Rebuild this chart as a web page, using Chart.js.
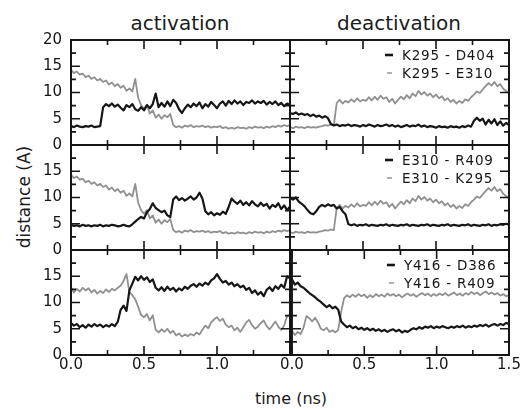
<!DOCTYPE html>
<html><head><meta charset="utf-8">
<script src="https://cdn.jsdelivr.net/npm/chart.js@4.4.1/dist/chart.umd.min.js"></script>
<style>
html,body{margin:0;padding:0;background:#fff;width:526px;height:409px;overflow:hidden;}
#wrap{position:relative;width:526px;height:409px;font-family:"DejaVu Sans",sans-serif;color:#1a1a1a;}
canvas{position:absolute;}
.lbl{position:absolute;white-space:nowrap;line-height:1;}
</style></head>
<body><div id="wrap">
<div class="lbl" style="left:180px;top:13px;transform:translateX(-50%);font-size:20px;">activation</div>
<div class="lbl" style="left:399px;top:13px;transform:translateX(-50%);font-size:20px;">deactivation</div>
<div class="lbl" style="left:291px;top:391px;transform:translateX(-50%);font-size:16px;">time (ns)</div>
<div class="lbl" style="left:24px;top:197px;transform:translate(-50%,-50%) rotate(-90deg);font-size:17px;">distance (A)</div>
</div>
<script>
// ---- data ----
const timeNs = [
 0.00,0.02,0.04,0.06,0.08,0.10,0.12,0.14,0.16,0.18,
 0.20,0.22,0.24,0.26,0.28,0.30,0.32,0.34,0.36,0.38,
 0.40,0.42,0.44,0.46,0.48,0.50,0.52,0.54,0.56,0.58,
 0.60,0.62,0.64,0.66,0.68,0.70,0.72,0.74,0.76,0.78,
 0.80,0.82,0.84,0.86,0.88,0.90,0.92,0.94,0.96,0.98,
 1.00,1.02,1.04,1.06,1.08,1.10,1.12,1.14,1.16,1.18,
 1.20,1.22,1.24,1.26,1.28,1.30,1.32,1.34,1.36,1.38,
 1.40,1.42,1.44,1.46,1.48,1.50];

const yTicksMajor = [0,5,10,15,20];
const xTicksMajor = [0.0,0.5,1.0,1.5];

// K295 - D404, activation
const k295_d404_act = [
 3.6,3.4,3.7,3.5,3.4,3.6,3.5,3.7,3.4,3.5,
 3.6,7.2,7.8,7.4,7.9,7.3,7.7,7.1,6.6,7.6,
 7.2,7.8,6.8,6.5,7.2,6.6,7.6,7.0,7.8,9.8,
 7.2,8.0,7.3,8.3,7.4,8.6,8.0,6.8,6.1,7.0,
 7.7,7.2,7.9,7.4,8.1,7.0,7.8,7.3,8.2,7.6,
 7.0,7.9,8.3,7.5,8.4,7.8,8.5,7.9,8.3,7.6,
 8.2,8.0,8.5,7.9,8.3,8.0,8.4,7.7,8.2,7.8,
 8.3,7.6,8.0,7.4,7.9,7.6];
// K295 - E310 (= E310 - K295), activation
const k295_e310_act = [
 14.3,13.7,14.0,13.4,13.6,12.9,13.2,12.6,12.9,12.3,
 12.6,12.0,12.3,11.5,11.9,11.2,11.6,10.9,11.3,10.3,
 10.8,10.2,12.6,9.0,7.6,6.9,7.6,6.0,6.6,5.2,
 5.8,5.0,5.7,5.3,5.9,3.8,3.4,3.6,3.3,3.7,
 3.5,3.8,3.4,3.6,3.5,3.7,3.4,3.6,3.3,3.5,
 3.4,3.6,3.2,3.4,3.1,3.3,3.1,3.4,3.2,3.3,
 3.1,3.4,3.2,3.5,3.3,3.4,3.2,3.5,3.3,3.6,
 3.4,3.7,3.5,3.8,3.6,3.8];
// K295 - D404, deactivation
const k295_d404_deact = [
 6.1,5.9,6.2,5.8,6.0,5.7,5.9,5.5,5.8,5.4,
 5.6,5.2,5.5,5.1,4.0,3.7,3.9,3.6,3.8,3.7,
 3.9,3.6,3.8,3.7,3.5,3.8,3.6,3.9,3.7,3.5,
 3.8,3.6,3.7,3.9,3.6,3.8,3.5,3.7,3.4,3.6,
 3.8,3.5,3.7,3.6,3.9,3.5,3.7,3.4,3.6,3.5,
 3.3,3.6,3.4,3.5,3.3,3.6,3.4,3.5,3.3,3.6,
 3.4,3.7,3.5,4.6,5.2,4.6,5.0,3.9,4.8,4.1,
 4.9,3.8,4.5,3.7,4.2,3.8];
// K295 - E310 (= E310 - K295), deactivation
const k295_e310_deact = [
 3.4,3.2,3.5,3.3,3.4,3.2,3.5,3.3,3.4,3.3,
 3.5,3.6,3.8,3.7,3.9,3.8,8.0,8.6,7.9,8.4,
 8.1,8.7,8.2,8.9,8.3,8.6,8.4,9.1,8.5,9.2,
 8.6,9.4,8.8,9.1,8.2,8.8,7.9,8.6,9.2,8.7,
 9.5,8.9,9.8,9.3,10.3,9.6,10.1,9.4,9.8,9.1,
 9.6,8.9,9.3,8.5,8.9,8.2,8.6,7.9,8.4,8.0,
 8.7,8.4,9.1,9.6,10.2,9.9,10.6,11.2,11.8,11.3,
 12.0,11.2,11.6,10.7,10.3,9.9];
// E310 - R409, activation
const e310_r409_act = [
 4.8,4.6,4.7,4.5,4.8,4.6,4.7,4.5,4.7,4.6,
 4.8,4.5,4.7,4.6,4.8,4.7,4.5,4.6,4.8,4.6,
 4.5,4.9,5.4,5.9,6.3,6.0,7.2,7.8,8.9,8.0,
 7.6,7.2,7.5,6.6,6.3,9.6,10.2,9.5,9.9,9.4,
 9.8,10.2,9.6,10.0,10.9,9.8,7.4,6.8,7.2,6.6,
 7.0,6.7,7.3,6.9,8.2,9.8,9.2,8.8,9.4,8.6,
 9.1,8.5,9.3,8.7,8.3,9.0,8.4,8.8,7.9,8.6,
 8.2,8.9,7.8,8.5,7.6,8.3];
// E310 - R409, deactivation
const e310_r409_deact = [
 9.9,9.6,10.0,9.2,8.8,8.3,7.6,7.0,6.8,7.4,
 8.2,8.6,8.3,8.7,8.4,8.6,7.9,8.2,7.4,6.8,
 4.9,4.7,4.9,4.6,4.8,4.7,4.9,4.6,4.8,4.7,
 4.6,4.8,4.7,4.9,4.6,4.8,4.7,4.6,4.8,4.7,
 4.9,4.6,4.8,4.7,4.6,4.8,4.7,4.9,4.6,4.8,
 4.7,4.6,4.8,4.7,4.9,4.6,4.8,4.7,4.6,4.8,
 4.7,4.9,4.6,4.8,4.7,4.6,4.8,4.7,4.9,4.6,
 4.8,4.7,4.9,4.8,5.0,4.8];
// Y416 - D386, activation
const y416_d386_act = [
 6.1,5.6,5.9,5.3,5.7,5.2,5.8,5.4,5.9,5.5,
 5.8,5.3,5.7,5.4,5.9,5.5,6.3,8.6,9.4,8.4,
 12.3,13.6,14.9,14.2,15.0,14.3,14.8,13.9,14.4,12.8,
 12.3,12.9,12.2,13.0,12.4,12.8,12.1,12.7,12.3,13.0,
 12.6,13.2,13.5,13.0,13.6,13.2,13.8,13.4,14.2,14.6,
 15.4,14.5,13.8,14.1,13.4,13.8,13.1,13.5,12.9,13.2,
 12.4,12.8,11.8,12.3,11.5,12.0,11.2,12.4,12.9,12.2,
 13.1,12.6,13.4,12.8,15.0,14.6];
// Y416 - R409, activation
const y416_r409_act = [
 12.9,11.9,12.6,12.1,12.8,12.3,12.7,11.9,12.4,11.7,
 12.2,11.8,12.5,12.0,12.6,12.3,12.8,13.2,14.1,15.4,
 12.0,11.4,10.6,9.2,7.6,7.2,7.8,6.6,7.6,4.8,
 4.3,4.9,4.4,5.0,4.2,4.6,3.7,4.1,3.5,3.9,
 3.6,4.0,3.7,4.3,3.9,4.8,5.6,5.1,6.2,6.8,
 7.2,6.5,6.9,5.8,5.3,5.6,4.7,5.2,4.4,5.3,
 6.2,6.7,5.7,5.0,5.4,6.1,6.6,5.5,4.9,5.6,
 6.4,5.4,4.8,5.6,7.4,7.6];
// Y416 - D386, deactivation
const y416_d386_deact = [
 14.4,13.4,13.8,13.1,12.8,12.3,11.8,11.4,11.0,10.5,
 10.1,9.6,9.1,9.5,8.9,9.2,8.6,6.4,5.8,5.3,
 5.6,5.1,5.4,4.9,5.2,4.8,5.1,4.7,5.0,4.6,
 4.9,4.5,4.8,4.4,4.7,4.9,4.5,4.8,4.3,4.6,
 4.4,4.8,5.1,4.9,5.3,5.0,5.4,5.2,5.5,5.1,
 5.4,5.2,5.5,5.3,5.1,5.4,5.2,5.5,5.3,5.6,
 5.2,5.5,5.3,5.6,5.4,5.7,5.5,5.8,5.4,5.7,
 5.9,5.6,5.9,5.7,6.1,5.9];
// Y416 - R409, deactivation
const y416_r409_deact = [
 4.6,3.8,4.4,4.0,5.2,7.4,7.0,6.4,7.1,6.2,
 5.0,4.7,5.2,4.4,4.7,4.3,4.8,8.2,10.8,11.4,
 11.0,11.5,11.1,11.6,11.2,11.5,10.9,11.4,11.0,11.6,
 11.2,11.5,11.1,11.7,11.3,11.6,11.2,11.5,11.0,11.4,
 11.7,11.3,11.6,11.1,11.5,11.8,11.4,11.7,11.2,11.6,
 11.3,11.7,11.4,11.8,11.3,11.6,11.9,11.4,11.7,11.3,
 11.8,11.5,12.0,11.6,11.9,11.4,11.8,12.1,11.6,11.9,
 11.5,11.8,11.3,11.6,11.2,11.4];

const panels = [
  {col:0,row:0,legend:false,series:[['K295 - D404',k295_d404_act],['K295 - E310',k295_e310_act]]},
  {col:1,row:0,legend:true, series:[['K295 - D404',k295_d404_deact],['K295 - E310',k295_e310_deact]]},
  {col:0,row:1,legend:false,series:[['E310 - R409',e310_r409_act],['E310 - K295',k295_e310_act]]},
  {col:1,row:1,legend:true, series:[['E310 - R409',e310_r409_deact],['E310 - K295',k295_e310_deact]]},
  {col:0,row:2,legend:false,series:[['Y416 - D386',y416_d386_act],['Y416 - R409',y416_r409_act]]},
  {col:1,row:2,legend:true, series:[['Y416 - D386',y416_d386_deact],['Y416 - R409',y416_r409_deact]]}
];

// ---- styling / drawing ----
const INK = '#161616';
const GRAY = '#909090';
const FONT = '"DejaVu Sans", sans-serif';

const framePlugin = {
  id: 'frame',
  afterDatasetsDraw(chart, args, opts) {
    const {ctx, chartArea: a, scales} = chart;
    const x = scales.x, y = scales.y;
    ctx.save();
    ctx.strokeStyle = INK;
    ctx.lineWidth = 2;
    ctx.strokeRect(a.left, a.top, a.right - a.left, a.bottom - a.top);
    ctx.lineWidth = 1.6;
    ctx.beginPath();
    x.ticks.forEach(t => {
      const px = x.getPixelForValue(t.value);
      const major = xTicksMajor.some(m => Math.abs(m - t.value) < 1e-6);
      const L = major ? 9 : 5;
      ctx.moveTo(px, a.bottom); ctx.lineTo(px, a.bottom - L);
      ctx.moveTo(px, a.top); ctx.lineTo(px, a.top + L);
    });
    y.ticks.forEach(t => {
      const py = y.getPixelForValue(t.value);
      const major = yTicksMajor.includes(t.value);
      const L = major ? 9 : 5;
      ctx.moveTo(a.left, py); ctx.lineTo(a.left + L, py);
      ctx.moveTo(a.right, py); ctx.lineTo(a.right - L, py);
    });
    ctx.stroke();
    if (opts.legend) {
      const rows = [15, 33];
      chart.data.datasets.forEach((ds, i) => {
        const yy = a.top + rows[i];
        ctx.beginPath();
        ctx.strokeStyle = ds.borderColor;
        if (i === 0) { ctx.lineWidth = 2.6; ctx.moveTo(a.left + 95, yy); ctx.lineTo(a.left + 103, yy); }
        else { ctx.lineWidth = 1.4; ctx.moveTo(a.left + 97, yy); ctx.lineTo(a.left + 102, yy); }
        ctx.stroke();
        ctx.fillStyle = INK;
        ctx.font = '13.5px ' + FONT;
        try { ctx.letterSpacing = '0.8px'; } catch (e) {}
        ctx.textBaseline = 'middle';
        ctx.textAlign = 'left';
        ctx.fillText(ds.label, a.left + 112, yy + 1);
      });
    }
    ctx.restore();
  }
};

const wrap = document.getElementById('wrap');
const rowTops = [40, 145, 250];
const PH = 105;

panels.forEach(p => {
  const bottomRow = p.row === 2;
  const xH = bottomRow ? 30 : 0;
  const left = p.col === 0 ? 0 : 280;
  const width = p.col === 0 ? 300 : 246;
  const top = rowTops[p.row] - 20;
  const height = 20 + PH + xH + 14;
  const cv = document.createElement('canvas');
  cv.width = width; cv.height = height;
  cv.style.left = left + 'px'; cv.style.top = top + 'px';
  cv.style.width = width + 'px'; cv.style.height = height + 'px';
  wrap.appendChild(cv);
  new Chart(cv, {
    type: 'line',
    data: {
      datasets: p.series.map((s, i) => ({
        label: s[0],
        data: s[1].map((v, k) => ({x: timeNs[k], y: v})),
        borderColor: i === 0 ? INK : GRAY,
        borderWidth: i === 0 ? 2.2 : 1.8,
        borderJoinStyle: 'round',
        pointRadius: 0,
        tension: 0,
        fill: false
      }))
    },
    options: {
      responsive: false,
      animation: false,
      devicePixelRatio: 1,
      layout: {autoPadding: false, padding: {left: p.col === 0 ? 0 : 10, right: p.col === 0 ? 10 : 17, top: 20, bottom: 14}},
      plugins: {legend: {display: false}, tooltip: {enabled: false}, frame: {legend: p.legend}},
      scales: {
        x: {
          type: 'linear', min: 0, max: 1.5,
          grid: {display: true, drawOnChartArea: false, drawTicks: true, tickLength: 1, tickColor: 'rgba(0,0,0,0)'},
          border: {display: false},
          ticks: {
            display: bottomRow, stepSize: 0.25, autoSkip: false, maxRotation: 0, padding: 0,
            color: INK, font: {size: 15, family: FONT},
            callback: v => {
              const major = xTicksMajor.some(m => Math.abs(m - v) < 1e-6);
              if (!major) return '';
              if (p.col === 0 && Math.abs(v - 1.5) < 1e-6) return '';
              return v.toFixed(1);
            }
          },
          afterFit: s => { s.height = xH; }
        },
        y: {
          type: 'linear', min: 0, max: 20,
          grid: {display: true, drawOnChartArea: false, drawTicks: true, tickLength: 9, tickColor: 'rgba(0,0,0,0)'},
          border: {display: false},
          ticks: {
            display: p.col === 0, stepSize: 2.5, autoSkip: false, padding: 0,
            color: INK, font: {size: 15, family: FONT},
            callback: v => {
              if (!yTicksMajor.includes(v)) return '';
              if (p.row > 0 && v === 20) return '';
              return String(v);
            }
          },
          afterFit: s => { s.width = p.col === 0 ? 71 : 0; }
        }
      }
    },
    plugins: [framePlugin]
  });
});
</script>
</body></html>
